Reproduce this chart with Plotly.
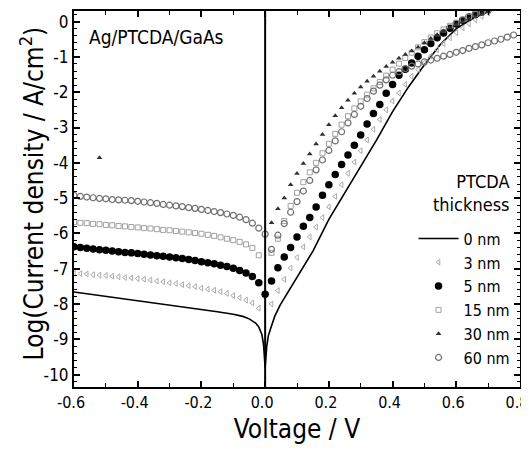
import plotly.graph_objects as go

# ---------------- data ----------------
V_REV = [-0.60, -0.58, -0.56, -0.54, -0.52, -0.50, -0.48, -0.46, -0.44, -0.42,
         -0.40, -0.38, -0.36, -0.34, -0.32, -0.30, -0.28, -0.26, -0.24, -0.22,
         -0.20, -0.18, -0.16, -0.14, -0.12, -0.10, -0.08, -0.06, -0.04, -0.02]
V_REV0 = V_REV + [0.00]

V_FWD = [0.02, 0.04, 0.06, 0.08, 0.10, 0.12, 0.14, 0.16, 0.18, 0.20,
         0.22, 0.24, 0.26, 0.28, 0.30, 0.32, 0.34, 0.36, 0.38, 0.40,
         0.42, 0.44, 0.46, 0.48, 0.50, 0.52, 0.54, 0.56, 0.58, 0.60,
         0.62, 0.64, 0.66, 0.68, 0.70]
V_FWD_LONG = V_FWD + [0.72, 0.74, 0.76, 0.78]

# 0 nm : continuous line
V_0NM = [-0.60, -0.50, -0.40, -0.30, -0.20, -0.15, -0.10, -0.07, -0.05, -0.03,
         -0.02, -0.01, -0.005, 0.0, 0.005, 0.01, 0.016, 0.03, 0.047, 0.08,
         0.11, 0.15, 0.20, 0.25, 0.30, 0.35, 0.40, 0.45, 0.50, 0.55,
         0.60, 0.65, 0.70]
J_0NM = [-7.66, -7.78, -7.91, -8.04, -8.16, -8.22, -8.29, -8.35, -8.42, -8.54,
         -8.65, -8.87, -9.15, -9.80, -9.20, -8.90, -8.73, -8.35, -8.03, -7.55,
         -7.10, -6.50, -5.60, -4.85, -4.10, -3.35, -2.55, -1.85, -1.22, -0.65,
         -0.20, 0.08, 0.28]

# 3 nm
J_3NM_REV = [-7.13, -7.14, -7.15, -7.17, -7.18, -7.19, -7.21, -7.23, -7.25, -7.26,
             -7.28, -7.30, -7.32, -7.35, -7.37, -7.40, -7.42, -7.45, -7.48, -7.51,
             -7.55, -7.58, -7.61, -7.65, -7.70, -7.76, -7.82, -7.89, -7.97, -8.12]
J_3NM_FWD = [-8.00, -7.62, -7.30, -6.98, -6.68, -6.38, -6.10, -5.82, -5.55, -5.25,
             -4.95, -4.62, -4.30, -3.98, -3.66, -3.35, -3.05, -2.77, -2.50, -2.25,
             -2.02, -1.78, -1.55, -1.36, -1.17, -0.98, -0.80, -0.62, -0.46, -0.31,
             -0.18, -0.06, 0.05, 0.15, 0.24]

# 5 nm
J_5NM_REV = [-6.38, -6.40, -6.42, -6.44, -6.46, -6.48, -6.50, -6.52, -6.54, -6.55,
             -6.57, -6.59, -6.61, -6.63, -6.65, -6.67, -6.69, -6.71, -6.74, -6.77,
             -6.80, -6.83, -6.86, -6.90, -6.94, -6.99, -7.05, -7.12, -7.22, -7.40,
             -7.72]
J_5NM_FWD = [-7.35, -6.97, -6.67, -6.40, -6.10, -5.80, -5.55, -5.25, -4.92, -4.62,
             -4.33, -4.05, -3.78, -3.50, -3.21, -2.90, -2.60, -2.35, -2.03, -1.78,
             -1.52, -1.35, -1.17, -0.98, -0.80, -0.62, -0.46, -0.32, -0.19, -0.07,
             0.04, 0.13, 0.21, 0.28, 0.34]

# 15 nm
J_15NM_REV = [-5.68, -5.70, -5.71, -5.73, -5.74, -5.76, -5.77, -5.79, -5.80, -5.82,
              -5.83, -5.85, -5.86, -5.88, -5.90, -5.91, -5.93, -5.95, -5.97, -5.99,
              -6.01, -6.04, -6.07, -6.11, -6.15, -6.19, -6.24, -6.31, -6.41, -6.62]
J_15NM_FWD = [-6.55, -6.15, -5.65, -5.22, -4.85, -4.55, -4.27, -4.00, -3.73, -3.46,
              -3.18, -2.92, -2.68, -2.46, -2.26, -2.07, -1.89, -1.71, -1.53, -1.36,
              -1.19, -1.03, -0.88, -0.73, -0.58, -0.45, -0.33, -0.22, -0.12, -0.03,
              0.06, 0.14, 0.21, 0.27, 0.33]

# 30 nm (a single reverse point, then forward)
V_30NM_REV = [-0.52]
J_30NM_REV = [-3.86]
J_30NM_FWD = [-5.70, -5.30, -5.00, -4.62, -4.30, -4.02, -3.75, -3.47, -3.20, -2.92,
              -2.67, -2.44, -2.23, -2.03, -1.85, -1.69, -1.55, -1.41, -1.27, -1.15,
              -1.04, -0.93, -0.83, -0.73, -0.60, -0.48, -0.37, -0.27, -0.18, -0.09,
              -0.01, 0.07, 0.14, 0.21, 0.27]

# 60 nm
J_60NM_REV = [-4.92, -4.95, -4.97, -4.99, -5.01, -5.02, -5.04, -5.05, -5.06, -5.07,
              -5.09, -5.11, -5.13, -5.15, -5.18, -5.20, -5.22, -5.24, -5.27, -5.29,
              -5.32, -5.35, -5.38, -5.41, -5.45, -5.49, -5.54, -5.61, -5.71, -5.85,
              -6.02]
J_60NM_FWD = [-6.45, -6.05, -5.72, -5.40, -5.10, -4.80, -4.50, -4.20, -3.92, -3.65,
              -3.38, -3.12, -2.87, -2.63, -2.40, -2.18, -1.97, -1.80, -1.65, -1.52,
              -1.42, -1.33, -1.26, -1.20, -1.14, -1.09, -1.04, -0.98, -0.93, -0.87,
              -0.82, -0.76, -0.71, -0.66, -0.60, -0.55, -0.50, -0.44, -0.38]

X_TICKS = [-0.6, -0.4, -0.2, 0.0, 0.2, 0.4, 0.6, 0.8]
X_TICKTEXT = ["-0.6", "-0.4", "-0.2", "0.0", "0.2", "0.4", "0.6", "0.8"]
Y_TICKS = [0, -1, -2, -3, -4, -5, -6, -7, -8, -9, -10]

# ---------------- figure ----------------
FONT = "Liberation Sans Narrow, DejaVu Sans Condensed, Liberation Sans, Arial, sans-serif"

fig = go.Figure()

fig.add_trace(go.Scatter(x=V_0NM, y=J_0NM, mode="lines", name="0 nm",
                         line=dict(color="black", width=1.6)))
fig.add_trace(go.Scatter(x=V_REV + V_FWD, y=J_3NM_REV + J_3NM_FWD, mode="markers",
                         name="3 nm",
                         marker=dict(symbol="triangle-left-open", size=5, color="#aaaaaa",
                                     line=dict(width=1, color="#aaaaaa"))))
fig.add_trace(go.Scatter(x=V_REV0 + V_FWD, y=J_5NM_REV + J_5NM_FWD, mode="markers",
                         name="5 nm",
                         marker=dict(symbol="circle", size=7.5, color="black")))
fig.add_trace(go.Scatter(x=V_REV + V_FWD, y=J_15NM_REV + J_15NM_FWD, mode="markers",
                         name="15 nm",
                         marker=dict(symbol="square-open", size=5, color="#a0a0a0",
                                     line=dict(width=1, color="#a0a0a0"))))
fig.add_trace(go.Scatter(x=V_30NM_REV + V_FWD, y=J_30NM_REV + J_30NM_FWD, mode="markers",
                         name="30 nm",
                         marker=dict(symbol="triangle-up", size=5, color="#303030")))
fig.add_trace(go.Scatter(x=V_REV0 + V_FWD_LONG, y=J_60NM_REV + J_60NM_FWD, mode="markers",
                         name="60 nm",
                         marker=dict(symbol="circle-open", size=6, color="#707070",
                                     line=dict(width=1.2, color="#707070"))))

fig.add_vline(x=0, line=dict(color="black", width=2))

axis_common = dict(
    showline=True, linecolor="black", linewidth=2, mirror="allticks",
    ticks="inside", tickcolor="black", tickwidth=1.5, ticklen=6,
    showgrid=False, zeroline=False, automargin=False,
    ticklabeloverflow="allow",
)

fig.update_xaxes(
    range=[-0.6, 0.8], tickmode="array", tickvals=X_TICKS, ticktext=X_TICKTEXT,
    tickfont=dict(family=FONT, size=16, color="black"), ticklabelshift=-3,
    minor=dict(dtick=0.1, ticks="inside", ticklen=4, tickcolor="black", tickwidth=1.2),
    title=dict(text="Voltage / V", font=dict(family=FONT, size=26, color="black"),
               standoff=9),
    **axis_common,
)
fig.update_yaxes(
    range=[-10.35, 0.3], tickmode="array", tickvals=Y_TICKS,
    ticktext=[str(v) for v in Y_TICKS],
    tickfont=dict(family=FONT, size=17, color="black"),
    minor=dict(dtick=0.2, ticks="inside", ticklen=3, tickcolor="black", tickwidth=1),
    **axis_common,
)

# y-axis title (rotated text)
fig.add_annotation(text="Log(Current density / A/cm<sup>2</sup>)", xref="paper", yref="paper",
                   x=-0.094, y=0.515, xanchor="center", yanchor="middle", textangle=-90,
                   showarrow=False, font=dict(family=FONT, size=26, color="black"))

fig.add_annotation(text="Ag/PTCDA/GaAs", xref="paper", yref="paper", x=0.03, y=0.931,
                   xanchor="left", yanchor="middle", showarrow=False,
                   font=dict(family=FONT, size=19, color="black"))
fig.add_annotation(text="PTCDA<br>thickness", xref="paper", yref="paper", x=0.982, y=0.515,
                   xanchor="right", yanchor="middle", align="right", showarrow=False,
                   font=dict(family=FONT, size=18, color="black"))

# the page body has an 8px margin: the figure is sized so the plot area lands
# where the reference's does inside the 529x453 window
fig.update_layout(
    width=521, height=445,
    margin=dict(l=66, r=9, t=3, b=66),
    paper_bgcolor="white", plot_bgcolor="white",
    showlegend=True,
    legend=dict(x=0.99, y=0.44, xanchor="right", yanchor="top",
                bgcolor="rgba(0,0,0,0)", borderwidth=0, itemwidth=40,
                font=dict(family=FONT, size=16, color="black"),
                tracegroupgap=0),
)

fig.write_html("out.html")
